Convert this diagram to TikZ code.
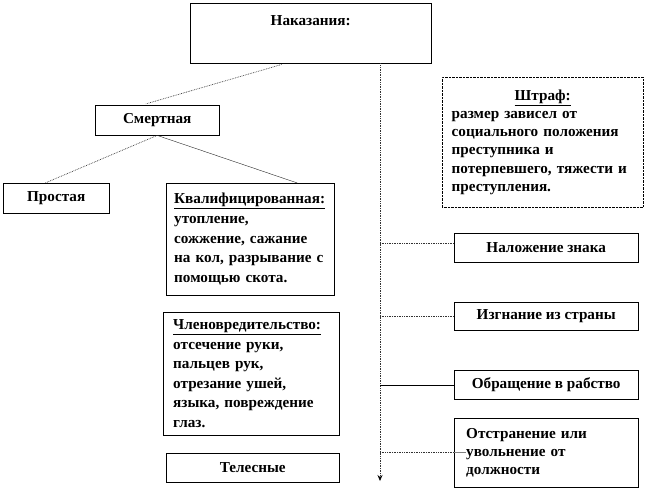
\documentclass[tikz,border=0pt]{standalone}
\usepackage{fontspec}
\setmainfont{Liberation Serif}
\usepackage{tikz}
\usetikzlibrary{arrows.meta}

\begin{document}
\begin{tikzpicture}[x=1pt,y=-1pt,
  every node/.style={font=\bfseries\fontsize{15.2}{19.6}\selectfont},
  box/.style={draw,thin,rectangle,anchor=north west,inner sep=0pt},
  txtbox/.style={box,align=left},
  link/.style={densely dotted,line width=0.7pt,gray!40!black}]
  \useasboundingbox (0,0) rectangle (647,490);
  % main box and the time axis
  \node[box,minimum width=241,text height=22,text depth=38] (nak) at (190,3) {Наказания:};
  \coordinate (axend) at (380,481);
  \draw[link,-{Stealth[length=6pt,width=5pt,color=black]}] (nak.south -| axend) -- (axend);
  % death penalty branch
  \node[box,minimum width=124,minimum height=30] (smert) at (95,105) {Смертная};
  \node[box,minimum width=106,minimum height=30] (prost) at (3,183) {Простая};
  \node[txtbox,text width=152,inner xsep=8,minimum height=112] (kval) at (166,183)
    {\underline{Квалифицированная:}\\утопление,\\сожжение, сажание\\на кол, разрывание с\\помощью скота.};
  \draw[link,shorten <=4pt,shorten >=4pt] (nak.230) -- (smert.135);
  \draw[link] (smert.south) -- (prost.126);
  \draw[thin,gray!30!black] (smert.south) -- (kval.50);
  % other punishments
  \node[txtbox,text width=156,inner xsep=10,minimum height=123] (chlen) at (163,312)
    {\underline{Членовредительство:}\\отсечение руки,\\пальцев рук,\\отрезание ушей,\\языка, повреждение\\глаз.};
  \node[box,minimum width=173,minimum height=29] (tel) at (166,453) {Телесные};
  \node[txtbox,densely dotted,text width=182,inner xsep=9.5,minimum height=130,
    font=\bfseries\fontsize{15.2}{18.3}\selectfont] (shtraf) at (442,77)
    {\makebox[\linewidth]{\underline{Штраф:}}\\размер зависел от\\социального положения\\преступника и\\потерпевшего, тяжести и\\преступления.};
  \node[box,minimum width=184,minimum height=29] (nalozh) at (454,233) {Наложение знака};
  \node[box,minimum width=184,minimum height=28] (izgn) at (454,302) {Изгнание из страны};
  \node[box,minimum width=184,minimum height=29] (rab) at (454,370) {Обращение в рабство};
  \node[txtbox,text width=160,inner xsep=12,minimum height=69,
    font=\bfseries\fontsize{15.2}{18.3}\selectfont] (otstr) at (454,418)
    {Отстранение или\\увольнение от\\должности};
  \draw[link] (nalozh.177 -| axend) -- (nalozh.177);
  \draw[link] (izgn.west -| axend) -- (izgn.west);
  \draw[thin] (rab.west -| axend) -- (rab.west);
  \draw[link] (otstr.west -| axend) -- (otstr.west);
  \draw[gray,line width=1pt] (otstr.west) -- ++(12,0);
\end{tikzpicture}
\end{document}
